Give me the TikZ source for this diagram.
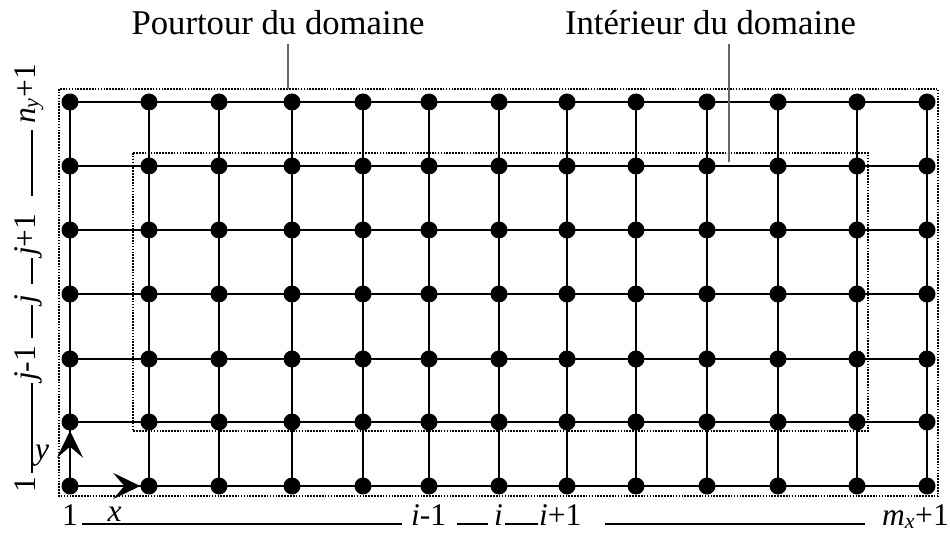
\documentclass[tikz,border=0pt]{standalone}
\usepackage{fontspec}
\setmainfont{Liberation Serif}
\usetikzlibrary{arrows.meta}
\begin{document}
\begin{tikzpicture}[x=1pt,y=-1pt,
  dot/.style={circle,fill=black,inner sep=0pt,minimum size=17pt},
  gridline/.style={line width=1.9pt},
  frame/.style={line width=1.7pt,dash pattern=on 1.6pt off 1.3pt},
  leader/.style={line width=1.2pt,draw=black!60},
  axis/.style={line width=2.8pt,-{Stealth[length=27pt,width=26pt,inset=11pt]}},
  idx/.style={font=\fontsize{31.5}{37}\selectfont,inner sep=0pt},
  rulel/.style={line width=1.9pt},
  title/.style={font=\fontsize{34.7}{41}\selectfont,inner sep=0pt,anchor=base}]
\useasboundingbox (0,0) rectangle (950,537);
% grid nodes
\foreach \x [count=\i] in {70,149,219,292,363,429,499,567,636,707,778,857,927}
  \foreach \y [count=\j] in {486,422,359,294,230,166,102}
    \node[dot] (p-\i-\j) at (\x,\y) {};
\foreach \j in {1,...,7}
  \draw[gridline] (p-1-\j.center) -- (p-13-\j.center);
\foreach \i in {1,...,13}
  \draw[gridline] (p-\i-1.center) -- (p-\i-7.center);
% axes
\draw[axis] (p-1-1.center) -- (p-2-1.west);
\draw[axis] (p-1-1.center) -- (p-1-2.south);
% frames
\coordinate (oa) at (59,89);  \coordinate (ob) at (938,496);
\coordinate (ia) at (133,153); \coordinate (ib) at (868,431);
\draw[frame] (oa) rectangle (ob);
\draw[frame] (ia) rectangle (ib);
% titles
\node[title] (tout) at (278,35) {Pourtour du domaine};
\node[title] (tin) at (710.5,35) {Intérieur du domaine};
\coordinate (lo1) at (288,44); \coordinate (lo2) at (288,89);
\coordinate (li1) at (729,44); \coordinate (li2) at (729,162);
\draw[leader] (lo1) -- (lo2);
\draw[leader] (li1) -- (li2);
% bottom index labels
\node[idx,anchor=base west] (b1) at (62,525) {1};
\node[idx,anchor=base] (bx) at (114.5,521) {\textit{x}};
\node[idx,anchor=base west] (bim) at (411,525) {\textit{i}-1};
\node[idx,anchor=base west] (bi) at (494,525) {\textit{i}};
\node[idx,anchor=base west] (bip) at (539,525) {\textit{i}+1};
\node[idx,anchor=base west] (bm) at (882,525) {\textit{m}\textsubscript{\textit{x}}+1};
\coordinate (r1a) at (82,524);  \coordinate (r1b) at (402,524);
\coordinate (r2a) at (457,524); \coordinate (r2b) at (488,524);
\coordinate (r3a) at (505,524); \coordinate (r3b) at (538,524);
\coordinate (r4a) at (605,524); \coordinate (r4b) at (865,524);
\draw[rulel] (r1a) -- (r1b);
\draw[rulel] (r2a) -- (r2b);
\draw[rulel] (r3a) -- (r3b);
\draw[rulel] (r4a) -- (r4b);
% left index labels
\node[idx,rotate=90,anchor=base west] (l1) at (35,493) {1};
\node[idx,rotate=90,anchor=base west] (ljm) at (35,381) {\textit{j}-1};
\node[idx,rotate=90,anchor=base west] (lj) at (35,304) {\textit{j}};
\node[idx,rotate=90,anchor=base west] (ljp) at (35,256) {\textit{j}+1};
\node[idx,rotate=90,anchor=base west] (ln) at (35,124) {\textit{n}\textsubscript{\textit{y}}+1};
\node[idx,anchor=base] (ly) at (42,459) {\textit{y}};
\coordinate (s1a) at (32,473); \coordinate (s1b) at (32,383);
\coordinate (s2a) at (32,338); \coordinate (s2b) at (32,305);
\coordinate (s3a) at (32,284); \coordinate (s3b) at (32,258);
\coordinate (s4a) at (32,196); \coordinate (s4b) at (32,130);
\draw[rulel] (s1a) -- (s1b);
\draw[rulel] (s2a) -- (s2b);
\draw[rulel] (s3a) -- (s3b);
\draw[rulel] (s4a) -- (s4b);
\end{tikzpicture}
\end{document}
